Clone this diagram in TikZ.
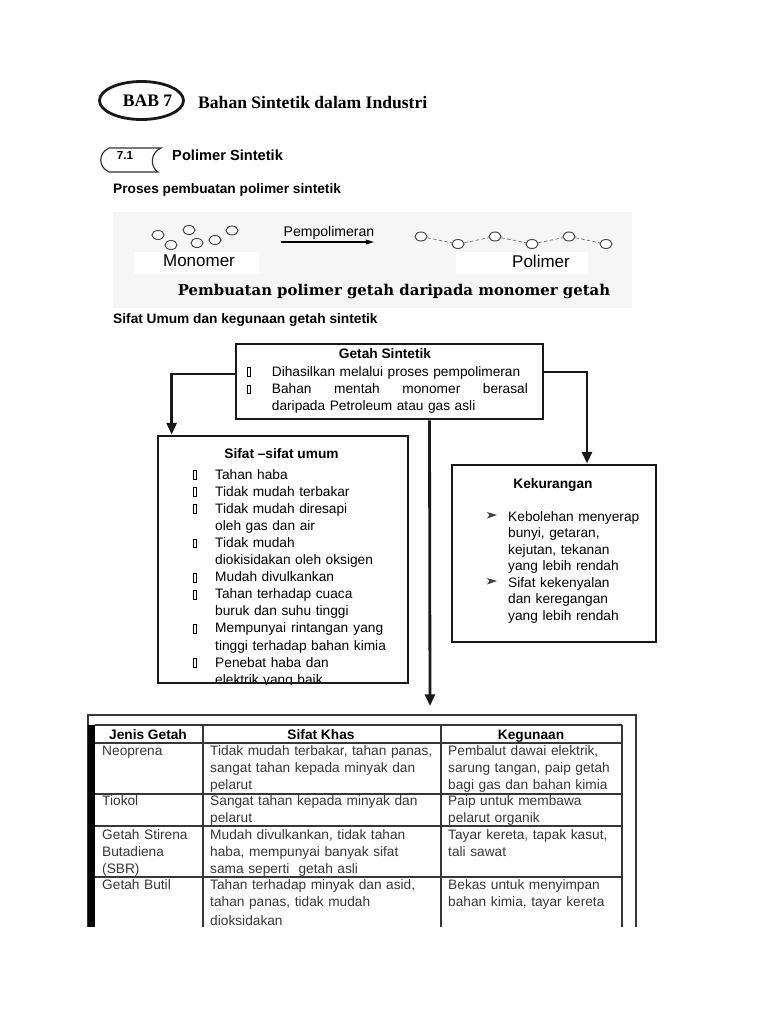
\documentclass[tikz,border=0pt]{standalone}
\usepackage{fontspec}
\setmainfont{Liberation Sans}
\newfontfamily\timesfont{Liberation Serif}
\newfontfamily\capfont{DejaVu Serif}
\usepackage{tikz}
\usetikzlibrary{shapes.geometric, arrows.meta, calc}
\definecolor{ink}{RGB}{25, 25, 25}
\definecolor{soft}{RGB}{55, 55, 55}
\definecolor{photo}{RGB}{246, 246, 246}
\newlength{\bw}
\newcommand*{\gbox}{{\setlength{\fboxsep}{0pt}\setlength{\fboxrule}{0.5pt}\fbox{\rule{0pt}{7pt}\rule{2pt}{0pt}}}}
\newcommand*{\bl}{\makebox[\bw][l]{\gbox}}
\newcommand*{\ind}{\hspace*{\bw}}

\begin{document}
\begin{tikzpicture}[
   x=0.03cm, y=-0.03cm,
   frame/.style={rectangle, draw=ink, line width=2.4pt, inner sep=0},
   conn/.style={-{Triangle[length=10pt, width=8.5pt]}, draw=ink, line width=2.4pt},
   head/.style={font=\bfseries\fontsize{11.7}{14}\selectfont, inner sep=0, anchor=base west},
   ttl/.style={font=\bfseries\fontsize{11.7}{14}\selectfont, inner sep=0, anchor=base},
   body/.style={font=\fontsize{11.7}{14.7}\selectfont, inner sep=0, anchor=base west, align=left},
   cell/.style={font=\fontsize{11.7}{14.6}\selectfont, text=soft, inner sep=0, anchor=base west,
                align=left, text width=#1},
   grid/.style={draw=soft, line width=1.2pt},
   bead/.style={ellipse, draw=black!75, line width=0.8pt, fill=white, inner sep=0,
                minimum width=0.36cm, minimum height=0.27cm}
  ]

  \useasboundingbox (0, 0) rectangle (768, 1024);

  % Chapter heading
  \node (bab) at (141.5, 100.5) [ellipse, draw=ink, line width=2.4pt, minimum width=2.52cm,
        minimum height=1.14cm, inner sep=0] {};
  \node (babtxt) at (147.5, 101) [inner sep=0, font=\timesfont\bfseries\fontsize{15}{18}\selectfont] {BAB 7};
  \node (title) at (198, 108) [anchor=base west, inner sep=0,
        font=\timesfont\bfseries\fontsize{15}{18}\selectfont] {Bahan Sintetik dalam Industri};

  \draw[draw=black!80, line width=1pt] (109, 148) -- (161, 148) .. controls (150, 153) and (150, 167) .. (158, 172)
        -- (109, 172) .. controls (98, 167) and (98, 153) .. (109, 148) -- cycle;
  \node (sec) at (125, 155) [font=\bfseries\fontsize{10}{12}\selectfont, inner sep=0] {7.1};
  \node (sectitle) at (172, 160) [head, font=\bfseries\fontsize{12.5}{15}\selectfont] {Polimer Sintetik};

  \node (proses) at (113, 193) [head] {Proses pembuatan polimer sintetik};

  % Picture of the reaction
  \fill[photo] (113, 212) rectangle (632, 308);
  \fill[white] (134, 252) rectangle (259, 274);
  \fill[white] (456, 252) rectangle (588, 274);

  \node (m1) at (158, 235) [bead] {};
  \node (m2) at (189, 230) [bead] {};
  \node (m3) at (171, 245) [bead] {};
  \node (m4) at (197, 243) [bead] {};
  \node (m5) at (215, 240) [bead] {};
  \node (m6) at (232, 230.5) [bead] {};

  \node (p1) at (421, 236.5) [bead] {};
  \node (p2) at (458, 244) [bead] {};
  \node (p3) at (495, 236.5) [bead] {};
  \node (p4) at (532, 244) [bead] {};
  \node (p5) at (569, 236.5) [bead] {};
  \node (p6) at (606, 244) [bead] {};

  \foreach \B/\E in {p1/p2, p2/p3, p3/p4, p4/p5, p5/p6} {
    \draw[black!55, line width=0.6pt, densely dashed] (\B) -- (\E);
  }

  \coordinate (rxs) at (281, 242);
  \coordinate (rxe) at (374, 242);
  \draw[-{Triangle[length=7pt, width=4pt]}, line width=1.1pt] (rxs) -- (rxe);
  \node (pemp) at (329, 233) [font=\fontsize{12}{14}\selectfont, inner sep=0] {Pempolimeran};
  \node (mono) at (199, 261) [font=\fontsize{14.5}{17}\selectfont, inner sep=0] {Monomer};
  \node (poli) at (541, 261) [font=\fontsize{14.5}{17}\selectfont, inner sep=0] {Polimer};
  \node (cap) at (394, 291) [font=\capfont\bfseries\fontsize{12.7}{15}\selectfont, inner sep=0]
        {Pembuatan polimer getah daripada monomer getah};

  \node (sifatumum) at (113, 323) [head] {Sifat Umum dan kegunaan getah sintetik};

  % Getah Sintetik
  \node (getah) at (389.5, 381.5) [frame, minimum width=9.21cm, minimum height=2.25cm] {};
  \node (gtitle) at (385, 358) [ttl] {Getah Sintetik};
  \node (glist) at (247, 376) [body, text width=8.6cm, font=\fontsize{11.7}{14.9}\selectfont]
        {\setlength{\bw}{0.74cm}\bl Dihasilkan melalui proses pempolimeran\\
         \bl\makebox[7.68cm][l]{Bahan\hfill mentah\hfill monomer\hfill berasal}\\
         \ind daripada Petroleum atau gas asli};

  % Sifat-sifat umum
  \begin{scope}
    \clip (150, 430) rectangle (415, 684);
    \node (slist) at (193, 479) [body, text width=6.5cm, font=\fontsize{11.7}{14.6}\selectfont]
          {\setlength{\bw}{0.66cm}\bl Tahan haba\\
           \bl Tidak mudah terbakar\\
           \bl Tidak mudah diresapi\\
           \ind oleh gas dan air\\
           \bl Tidak mudah\\
           \ind diokisidakan oleh oksigen\\
           \bl Mudah divulkankan\\
           \bl Tahan terhadap cuaca\\
           \ind buruk dan suhu tinggi\\
           \bl\makebox[5.04cm][l]{Mempunyai\hfill rintangan\hfill yang}\\
           \ind tinggi terhadap bahan kimia\\
           \bl Penebat haba dan\\
           \ind elektrik yang baik};
  \end{scope}
  \node (sifat) at (283, 559.5) [frame, minimum width=7.5cm, minimum height=7.41cm] {};
  \node (stitle) at (281.5, 458) [ttl] {Sifat --sifat umum};

  % Kekurangan
  \node (kek) at (554, 553.5) [frame, minimum width=6.12cm, minimum height=5.31cm] {};
  \node (ktitle) at (553, 488) [ttl] {Kekurangan};
  \node (klist) at (508, 521) [body, text width=5.2cm, font=\fontsize{11.7}{14.1}\selectfont]
        {Kebolehan menyerap\\ bunyi, getaran,\\ kejutan, tekanan\\ yang lebih rendah\\
         Sifat kekenyalan\\ dan keregangan\\ yang lebih rendah};
  \foreach \y in {515, 581} {
    \fill[black!75] (487, \y - 3) -- (497, \y) -- (487, \y + 3.5) -- (489.5, \y) -- cycle;
  }

  % Connectors
  \coordinate (tabtop) at (430, 706);
  \draw[conn] ($(getah.west)+(0, -7.5)$) -| ($(sifat.north west)+(15, 0)$);
  \draw[conn] ($(getah.east)+(0, -9.5)$) -| ($(kek.north)+(33, 0)$);
  \draw[conn] ($(getah.south)+(40, 0)$) -- (tabtop);

  % Table
  \draw[line width=1.2pt, soft] (88, 927) -- (88, 715) -- (636, 715) -- (636, 927);
  \fill[black] (88, 725) rectangle (95, 927);
  \foreach \r in {725, 743, 794, 826, 877} {
    \draw[grid] (95, \r) -- (622, \r);
  }
  \foreach \c in {203, 441, 622} {
    \draw[grid] (\c, 725) -- (\c, 927);
  }

  \node (h1) at (148, 739) [ttl] {Jenis Getah};
  \node (h2) at (321, 739) [ttl] {Sifat Khas};
  \node (h3) at (531, 739) [ttl] {Kegunaan};

  \node (a1) at (102, 755) [cell=3cm] {Neoprena};
  \node (a2) at (210, 755) [cell=6.9cm] {Tidak mudah terbakar, tahan panas,\\ sangat tahan kepada minyak dan\\ pelarut};
  \node (a3) at (448, 755) [cell=5.4cm] {Pembalut dawai elektrik,\\ sarung tangan, paip getah\\ bagi gas dan bahan kimia};

  \node (b1) at (102, 805) [cell=3cm] {Tiokol};
  \node (b2) at (210, 805) [cell=6.9cm] {Sangat tahan kepada minyak dan\\ pelarut};
  \node (b3) at (448, 805) [cell=5.4cm] {Paip untuk membawa\\ pelarut organik};

  \node (c1) at (102, 839) [cell=3cm] {Getah Stirena\\ Butadiena\\ (SBR)};
  \node (c2) at (210, 839) [cell=6.9cm] {Mudah divulkankan, tidak tahan\\ haba, mempunyai banyak sifat\\ sama seperti \ getah asli};
  \node (c3) at (448, 839) [cell=5.4cm] {Tayar kereta, tapak kasut,\\ tali sawat};

  \node (d1) at (102, 889) [cell=3cm] {Getah Butil};
  \node (d2) at (210, 889) [cell=6.9cm] {Tahan terhadap minyak dan asid,\\ tahan panas, tidak mudah\\[1.7pt] dioksidakan};
  \node (d3) at (448, 889) [cell=5.4cm] {Bekas untuk menyimpan\\ bahan kimia, tayar kereta};

\end{tikzpicture}
\end{document}
